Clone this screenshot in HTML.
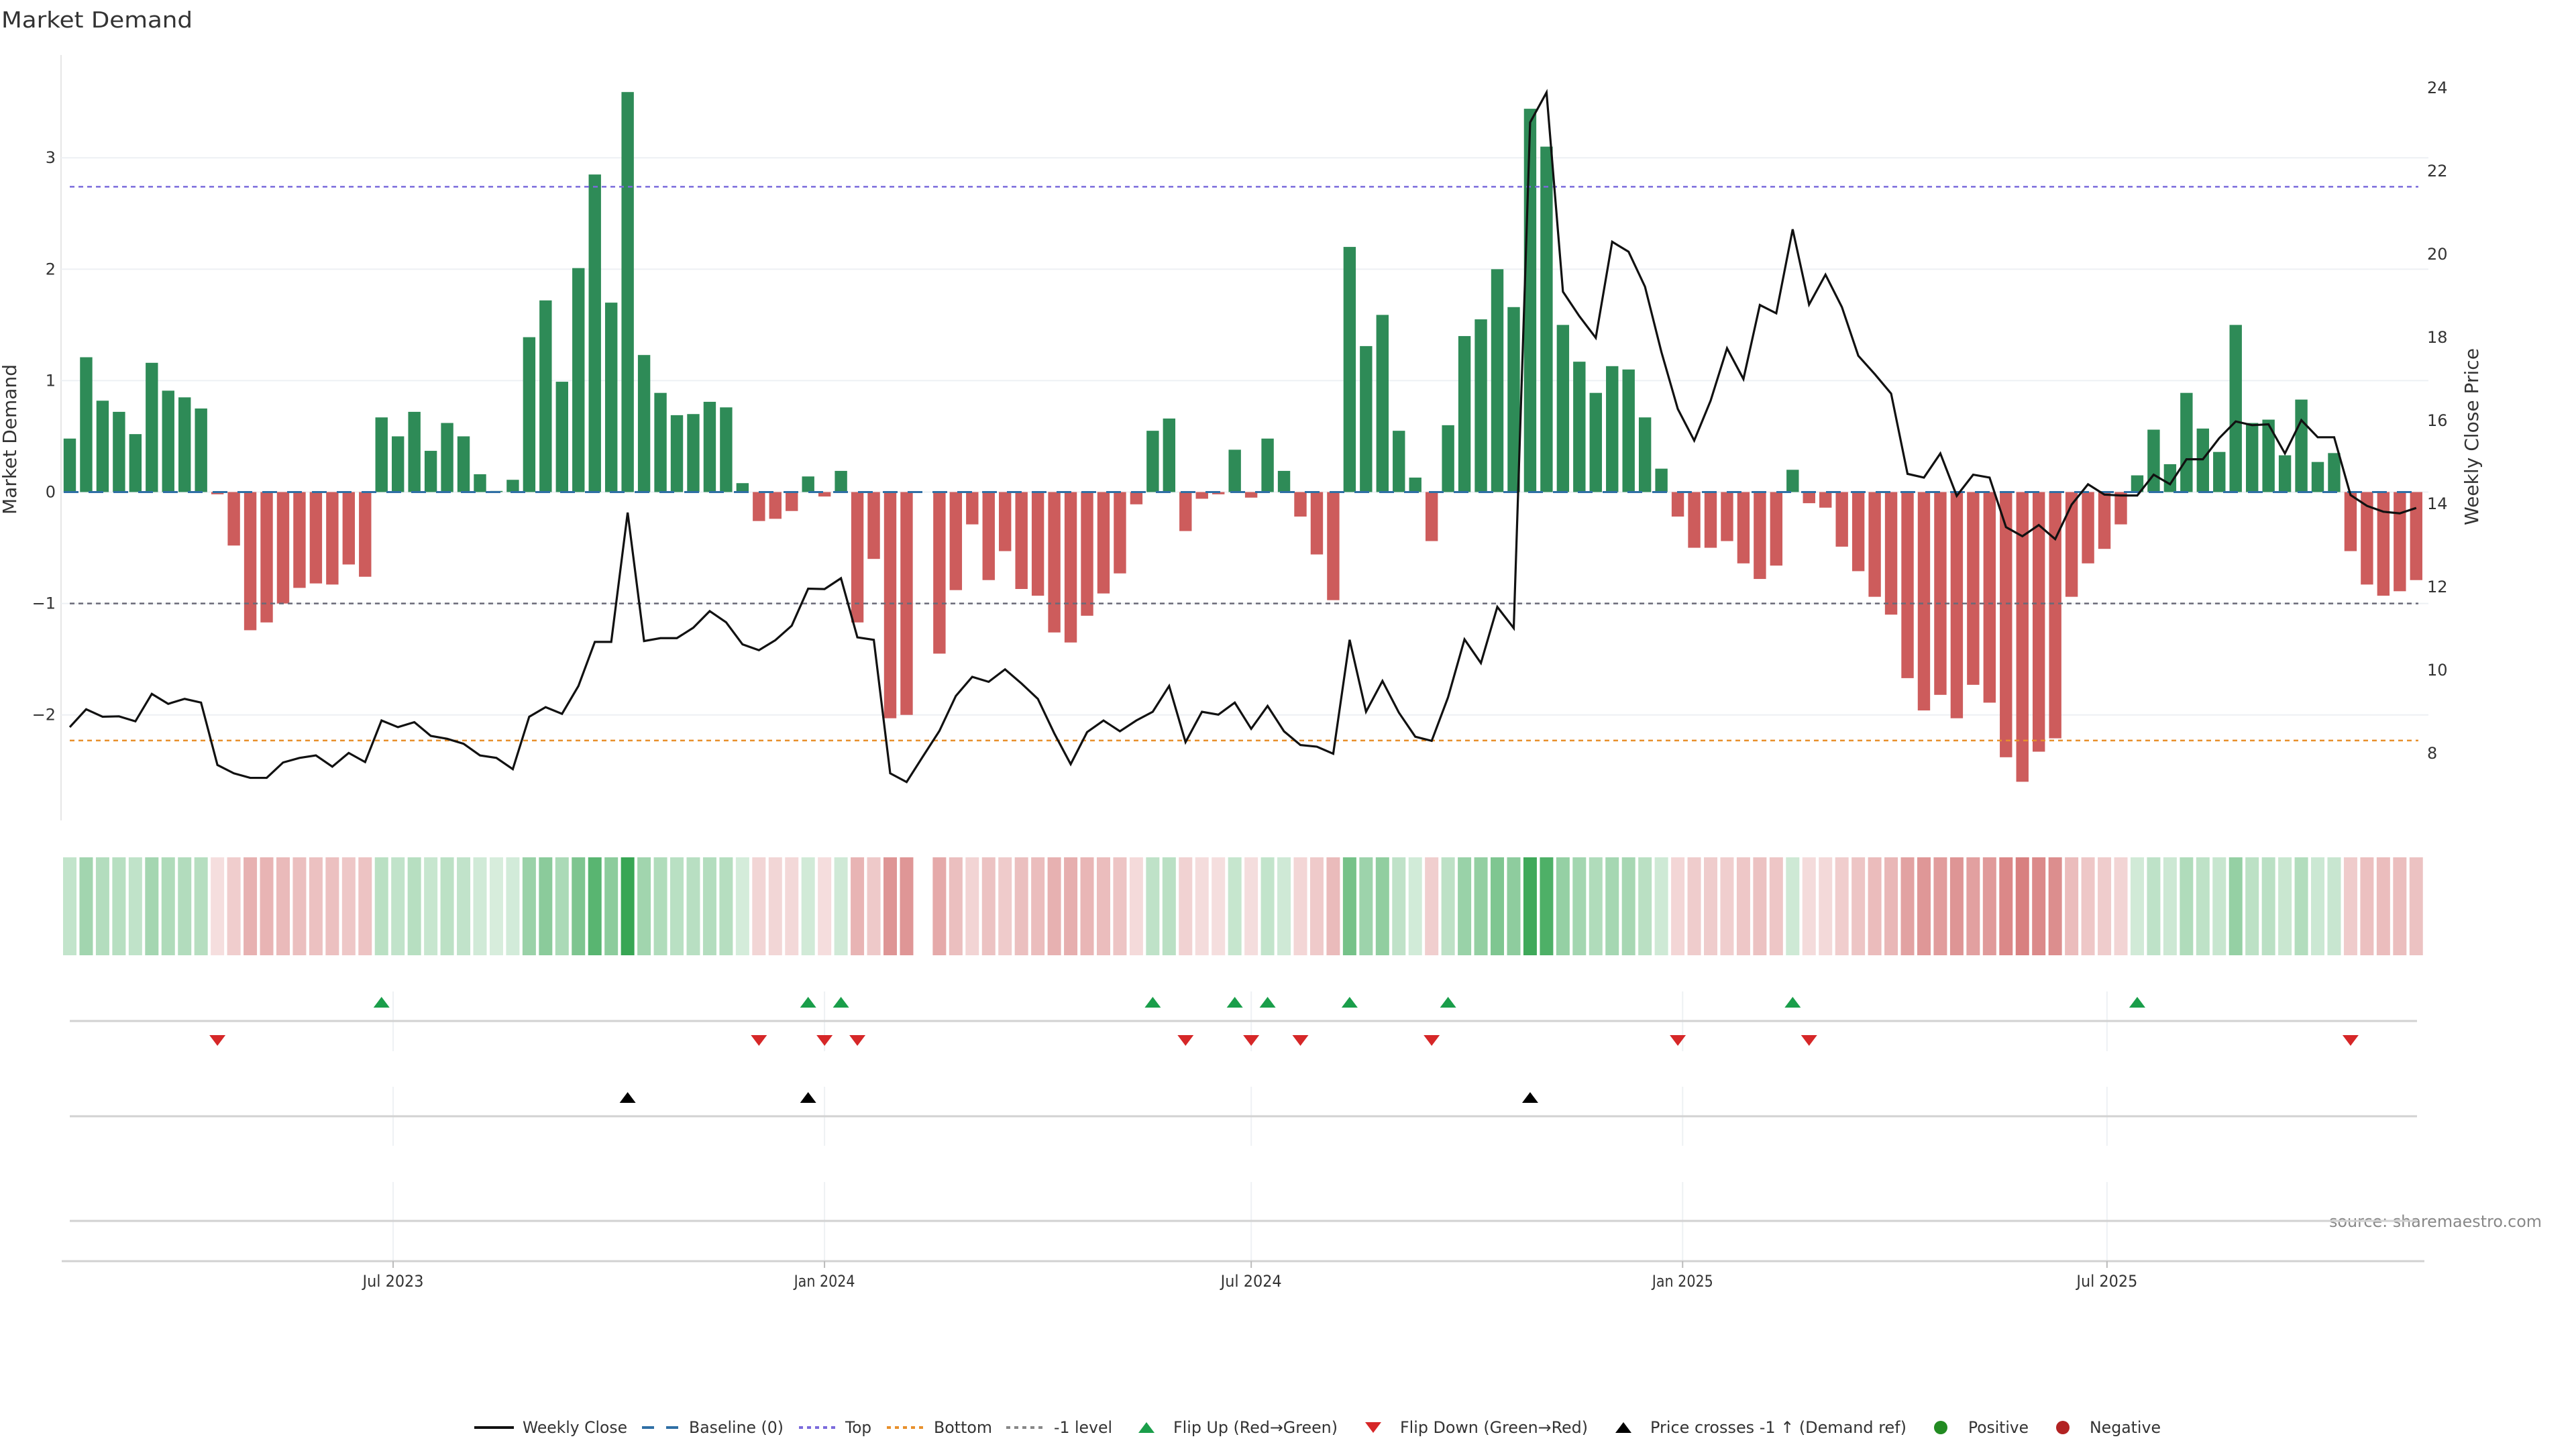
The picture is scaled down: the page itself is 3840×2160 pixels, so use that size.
<!DOCTYPE html>
<html><head><meta charset="utf-8"><title>Market Demand</title>
<style>
html,body{margin:0;padding:0;background:#fff;width:3840px;height:2160px;overflow:hidden}
svg{display:block}
text{font-family:"DejaVu Sans","Liberation Sans",sans-serif;fill:#333}
</style></head>
<body>
<svg id="chart" width="3840" height="2160" viewBox="0 0 3840 2160" xmlns="http://www.w3.org/2000/svg">
<text x="2" y="41" font-size="33" textLength="285" lengthAdjust="spacingAndGlyphs">Market Demand</text>
<text transform="translate(24,655) rotate(-90)" text-anchor="middle" font-size="28" font-family="Liberation Sans, sans-serif" textLength="224" lengthAdjust="spacingAndGlyphs">Market Demand</text>
<text transform="translate(3694,651) rotate(-90)" text-anchor="middle" font-size="28" font-family="Liberation Sans, sans-serif" textLength="264" lengthAdjust="spacingAndGlyphs">Weekly Close Price</text>
<text x="3472" y="1829" font-size="24" fill="#888" style="fill:#888" font-family="Liberation Sans, sans-serif" textLength="317" lengthAdjust="spacingAndGlyphs">source: sharemaestro.com</text>
<g id="layer"></g>
</svg>
<script>
const demand = [0.48,1.21,0.82,0.72,0.52,1.16,0.91,0.85,0.75,-0.02,-0.48,-1.24,-1.17,-1.0,-0.86,-0.82,-0.83,-0.65,-0.76,0.67,0.50,0.72,0.37,0.62,0.50,0.16,0.01,0.11,1.39,1.72,0.99,2.01,2.85,1.70,3.59,1.23,0.89,0.69,0.70,0.81,0.76,0.08,-0.26,-0.24,-0.17,0.14,-0.04,0.19,-1.17,-0.60,-2.03,-2.0,0,-1.45,-0.88,-0.29,-0.79,-0.53,-0.87,-0.93,-1.26,-1.35,-1.11,-0.91,-0.73,-0.11,0.55,0.66,-0.35,-0.06,-0.02,0.38,-0.05,0.48,0.19,-0.22,-0.56,-0.97,2.20,1.31,1.59,0.55,0.13,-0.44,0.60,1.40,1.55,2.00,1.66,3.44,3.10,1.50,1.17,0.89,1.13,1.10,0.67,0.21,-0.22,-0.50,-0.50,-0.44,-0.64,-0.78,-0.66,0.20,-0.10,-0.14,-0.49,-0.71,-0.94,-1.10,-1.67,-1.96,-1.82,-2.03,-1.73,-1.89,-2.38,-2.60,-2.33,-2.21,-0.94,-0.64,-0.51,-0.29,0.15,0.56,0.25,0.89,0.57,0.36,1.50,0.62,0.65,0.33,0.83,0.27,0.35,-0.53,-0.83,-0.93,-0.89,-0.79];
const price = [8.63,9.06,8.88,8.89,8.77,9.43,9.19,9.31,9.22,7.72,7.52,7.41,7.41,7.78,7.89,7.95,7.68,8.01,7.79,8.79,8.63,8.75,8.42,8.35,8.23,7.95,7.89,7.62,8.88,9.11,8.95,9.62,10.68,10.68,13.79,10.70,10.77,10.77,11.02,11.42,11.15,10.62,10.48,10.72,11.07,11.96,11.95,12.21,10.79,10.73,7.52,7.31,7.93,8.54,9.38,9.84,9.72,10.02,9.68,9.31,8.48,7.74,8.51,8.79,8.53,8.79,9.00,9.62,8.27,9.00,8.93,9.22,8.59,9.14,8.53,8.20,8.16,7.99,10.73,9.00,9.74,8.98,8.40,8.30,9.35,10.74,10.17,11.52,11.01,23.17,23.89,19.10,18.51,17.99,20.30,20.06,19.22,17.65,16.28,15.52,16.48,17.74,17.00,18.78,18.58,20.60,18.79,19.51,18.73,17.56,17.12,16.65,14.72,14.63,15.21,14.19,14.70,14.63,13.44,13.22,13.49,13.15,13.98,14.47,14.22,14.20,14.20,14.70,14.47,15.07,15.07,15.58,15.98,15.89,15.91,15.21,16.01,15.60,15.60,14.21,13.95,13.81,13.77,13.90];
const demandTicks = [-2,-1,0,1,2,3];
const priceTicks = [8,10,12,14,16,18,20,22,24];
const dateTicks = ["2023-07-01","2024-01-01","2024-07-01","2025-01-01","2025-07-01"];
const dateTickLabels = ["Jul 2023","Jan 2024","Jul 2024","Jan 2025","Jul 2025"];
const topLevel = 2.74;
const bottomLevel = -2.23;
const refLevel = -1;

const NS = "http://www.w3.org/2000/svg";
const layer = document.getElementById('layer');
function mk(tag, attrs, parent){const e=document.createElementNS(NS,tag);for(const k in attrs)e.setAttribute(k,attrs[k]);(parent||layer).appendChild(e);return e;}

const X0=104, PITCH=24.46;
function xb(i){return X0+i*PITCH;}
function yD(v){return 733.5 - v*166.1;}
function yP(p){return 1123 - (p-8)*62.0;}
const DAY=86400000, REF=Date.UTC(2023,6,1);
function xDate(s){const d=new Date(s+"T00:00:00Z").getTime();return 586+(d-REF)/DAY*3.495;}
function pToD(p){return (733.5-yP(p))/166.1;}

const PL=91, PR=3620;
let e=mk('line',{x1:PL,y1:82,x2:PL,y2:1223,stroke:'#e6e6e6','stroke-width':2});


demandTicks.forEach(v=>{
  const g=mk('line',{x1:PL,y1:yD(v),x2:PR,y2:yD(v),stroke:'#edf0f4','stroke-width':2});
  
  
  const t=mk('text',{x:83,y:yD(v)+8,'text-anchor':'end','font-size':24});
  t.textContent=(v<0?'\u2212':'')+Math.abs(v);
  
  
});
priceTicks.forEach(p=>{
  const t=mk('text',{x:3618,y:yP(p)+8,'font-size':24});
  t.textContent=p;
  
  
});
demand.forEach((v,i)=>{
  const y=Math.min(yD(v),yD(0)), h=Math.abs(yD(v)-yD(0));
  const r=mk('rect',{x:xb(i)-9.2,y:y,width:18.4,height:Math.max(h,0.01),fill:v>=0?'#2e8b57':'#cd5c5c'});
  
  
});
e=mk('line',{x1:xb(0)-9,y1:yD(0),x2:xb(demand.length-1),y2:yD(0),stroke:'#2f6fa5','stroke-width':3,'stroke-dasharray':'22 15'});


[[topLevel,'#7b6bdc','top-level-line'],[bottomLevel,'#e8902c','bottom-level-line'],[refLevel,'#6a6a78','minus-one-level-line']].forEach(a=>{
  const l=mk('line',{x1:xb(0),y1:yD(a[0]),x2:3605,y2:yD(a[0]),stroke:a[1],'stroke-width':2.5,'stroke-dasharray':'7 6'});
  
  
});
e=mk('polyline',{points:price.map((p,i)=>xb(i)+','+yP(p)).join(' '),fill:'none',stroke:'#111','stroke-width':3.2,'stroke-linejoin':'miter'});


function mix(c,t){return 'rgb('+c.map(x=>Math.round(255-t*(255-x))).join(',')+')';}
demand.forEach((v,i)=>{
  const t=0.2+0.8*Math.min(Math.abs(v)/3.6,1);
  const col=v>=0?mix([56,166,84],t):mix([205,92,92],t);
  const r=mk('rect',{x:xb(i)-10,y:1278,width:20,height:146,fill:v===0?'#fff':col});
  
  
});
dateTicks.forEach(d=>{
  const x=xDate(d);
  [[1478,1567],[1620,1708],[1762,1880]].forEach(s=>{
    const l=mk('line',{x1:x,y1:s[0],x2:x,y2:s[1],stroke:'#eef1f4','stroke-width':2});
    
    
  });
});
[1522,1664,1820].forEach(y=>{
  const l=mk('line',{x1:104,y1:y,x2:3603,y2:y,stroke:'#d2d2d2','stroke-width':3});
  
  
});
e=mk('line',{x1:92,y1:1880,x2:3614,y2:1880,stroke:'#d2d2d2','stroke-width':3});


dateTicks.forEach((d,k)=>{
  const x=xDate(d);
  const tk=mk('line',{x1:x,y1:1880,x2:x,y2:1890,stroke:'#bbb','stroke-width':2});
  
  
  const t=mk('text',{x:x,y:1918,'text-anchor':'middle','font-size':24,'font-family':'Liberation Sans, sans-serif',textLength:91,lengthAdjust:'spacingAndGlyphs'});
  t.textContent=dateTickLabels[k];
  
  
});
function tri(x,y,up,col,name){
  const w=12,h=8;
  const pts=up?[x-w,y+h,x+w,y+h,x,y-h]:[x-w,y-h,x+w,y-h,x,y+h];
  const p=mk('polygon',{points:pts.join(' '),fill:col});
  
  
}
let last=0;
demand.forEach((v,i)=>{
  const s=v>0?1:(v<0?-1:0);
  if(s!==0){
    if(last===-1&&s===1)tri(xb(i),1494,true,'#1a9e4a','flip-up-marker');
    if(last===1&&s===-1)tri(xb(i),1551,false,'#d62728','flip-down-marker');
    last=s;
  }
});
price.forEach((p,i)=>{
  if(i>0&&pToD(price[i-1])<refLevel&&pToD(p)>=refLevel)tri(xb(i),1636,true,'#000','price-cross-marker');
});
const LY=2128;
function ltext(x,s,w){const t=mk('text',{x:x,y:LY+8,'font-size':24,'font-family':'Liberation Sans, sans-serif',textLength:w,lengthAdjust:'spacingAndGlyphs'});t.textContent=s;}
let g;
g=mk('line',{x1:707,y1:LY,x2:766,y2:LY,stroke:'#111','stroke-width':4});
ltext(779,'Weekly Close',156);
g=mk('line',{x1:957,y1:LY,x2:1011,y2:LY,stroke:'#2f6fa5','stroke-width':4,'stroke-dasharray':'18 18'});
ltext(1027,'Baseline (0)',141);
g=mk('line',{x1:1191,y1:LY,x2:1245,y2:LY,stroke:'#7b6bdc','stroke-width':4,'stroke-dasharray':'6 6'});
ltext(1260,'Top',39);
g=mk('line',{x1:1322,y1:LY,x2:1376,y2:LY,stroke:'#e8902c','stroke-width':4,'stroke-dasharray':'6 6'});
ltext(1392,'Bottom',87);
g=mk('line',{x1:1500,y1:LY,x2:1554,y2:LY,stroke:'#888','stroke-width':4,'stroke-dasharray':'6 6'});
ltext(1571,'-1 level',87);
tri(1709,LY,true,'#1a9e4a','legend-flip-up');
ltext(1749,'Flip Up (Red\u2192Green)',245);
tri(2047,LY,false,'#d62728','legend-flip-down');
ltext(2087,'Flip Down (Green\u2192Red)',280);
tri(2420,LY,true,'#000','legend-price-cross');
ltext(2460,'Price crosses -1 \u2191 (Demand ref)',382);
g=mk('circle',{cx:2893,cy:LY,r:10,fill:'#228b22'});
ltext(2934,'Positive',90);
g=mk('circle',{cx:3075,cy:LY,r:10,fill:'#b22222'});
ltext(3115,'Negative',106);
</script>
</body></html>
